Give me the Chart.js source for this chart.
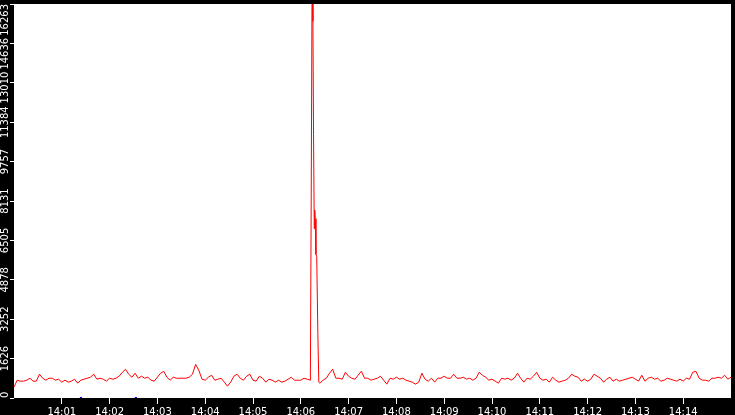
<!DOCTYPE html>
<html>
<head>
<meta charset="utf-8">
<script src="https://cdn.jsdelivr.net/npm/chart.js@4/dist/chart.umd.min.js"></script>
<style>
  html, body { margin: 0; padding: 0; background: #000; }
  #chart { display: block; }
</style>
</head>
<body>
<canvas id="chart" width="735" height="415"></canvas>
<script>
/***************************************
 * Data (seconds after 14:00:00, one sample every 4 s)
 ***************************************/
const sampleStep = 4;
const sampleValues = [
  449, 735, 695, 695, 735, 817, 695, 695, 981, 817,
  735, 817, 817, 735, 776, 654, 735, 654, 695, 776,
  613, 735, 776, 817, 858, 981, 776, 817, 776, 695,
  817, 776, 817, 899, 1062, 1185, 981, 858, 1021, 817,
  899, 817, 858, 735, 695, 858, 1021,
  1103, 858, 735, 858, 817, 817, 817, 817, 858, 981,
  1389, 1144, 776, 735, 858, 940, 735, 776, 817, 654,
  490, 654, 899, 981, 817, 735, 899, 981, 735, 695,
  899, 817, 654, 776, 735, 654, 735, 654, 695, 776,
  858, 735, 735, 735, 817, 776, 735,
  10870, 5850,
  613, 735, 817, 1021, 1185, 817, 817, 776, 1062, 899,
  817, 776, 940, 1103, 817, 817, 735, 776, 817, 899,
  735, 572, 817, 776, 858, 776, 817, 735, 695, 654,
  572, 654, 1021, 776, 695, 817, 654, 817, 817, 899,
  817, 817, 981, 817, 817,
  858, 776, 817, 735, 817, 1062, 940, 858, 735, 776,
  695, 613, 817, 776, 817, 735, 817, 1021, 817, 654,
  817, 776, 899, 1062, 817, 735, 776, 654, 858, 735,
  654, 695, 735, 817, 981, 899, 858, 695, 776, 695,
  776, 981, 899, 817, 654, 776, 858,
  695, 776, 695, 735, 776, 817, 858, 776, 695, 940,
  695, 817, 858, 776, 817, 695, 735, 817, 776, 735,
  695, 776, 695, 817, 776, 1062, 1103, 817, 735, 735,
  695, 817, 817, 858, 817, 940, 776, 858
];

// extra readings inside the burst around 14:06:13
const spikeSeconds = [373.1, 374.2, 375.2, 376.9, 377.5, 378.1, 379.0, 381.4, 382.6];
const spikeValues = [8500, 17800, 15550, 6990, 7760, 7400, 5925, 2656, 654];

// small blue markers on the time axis
const markerSeconds = [84, 153];

const yTickValues = [0, 1626, 3252, 4878, 6505, 8131, 9757, 11384, 13010, 14636, 16263];
const xTickSeconds = [60, 120, 180, 240, 300, 360, 420, 480, 540, 600, 660, 720, 780, 840];
const xTickLabels = ['14:01', '14:02', '14:03', '14:04', '14:05', '14:06', '14:07',
                     '14:08', '14:09', '14:10', '14:11', '14:12', '14:13', '14:14'];

/***************************************
 * Build point list
 ***************************************/
const linePoints = sampleValues
  .map((v, i) => ({ x: i * sampleStep, y: v }))
  .concat(spikeSeconds.map((s, i) => ({ x: s, y: spikeValues[i] })))
  .sort((a, b) => a.x - b.x);

const markerPoints = markerSeconds.map(s => ({ x: s, y: 0 }));

/***************************************
 * Plugins
 ***************************************/
// black canvas, white plot area
const backgroundPlugin = {
  id: 'bg',
  beforeDraw(chart) {
    const ctx = chart.ctx;
    const a = chart.chartArea;
    ctx.save();
    ctx.fillStyle = '#000';
    ctx.fillRect(0, 0, chart.width, chart.height);
    ctx.fillStyle = '#fff';
    ctx.fillRect(a.left, a.top, a.right - a.left, a.bottom - a.top);
    ctx.restore();
  }
};

// rotated y tick labels in the left strip, pushed apart when they touch
const yLabelPlugin = {
  id: 'ylabels',
  afterDraw(chart) {
    const ctx = chart.ctx;
    const scale = chart.scales.y;
    const a = chart.chartArea;
    ctx.save();
    ctx.font = '10px "DejaVu Sans"';
    ctx.fillStyle = '#fff';
    ctx.textAlign = 'center';
    ctx.textBaseline = 'middle';
    let prevBottom = -Infinity;
    yTickValues.slice().reverse().forEach(v => {
      const label = String(v);
      const w = ctx.measureText(label).width;
      let c = scale.getPixelForValue(v);
      c = Math.max(a.top + w / 2, Math.min(a.bottom - w / 2, c));
      if (c - w / 2 < prevBottom + 2) c = prevBottom + 2 + w / 2;
      prevBottom = c + w / 2;
      ctx.save();
      ctx.translate(5.5, c);
      ctx.rotate(-Math.PI / 2);
      ctx.fillText(label, 0, 0);
      ctx.restore();
    });
    ctx.restore();
  }
};

/***************************************
 * Chart
 ***************************************/
const chartCtx = document.getElementById('chart').getContext('2d');
const chart = new Chart(chartCtx, {
  type: 'line',
  data: {
    datasets: [{
      data: linePoints,
      borderColor: '#ff0000',
      borderWidth: 1,
      pointRadius: 0,
      tension: 0,
      fill: false
    }, {
      data: markerPoints,
      showLine: false,
      pointStyle: 'rect',
      pointRadius: 1.5,
      pointBorderWidth: 0,
      pointBackgroundColor: '#0000ff',
      borderColor: '#0000ff'
    }]
  },
  options: {
    responsive: false,
    animation: false,
    devicePixelRatio: 1,
    layout: { padding: 0 },
    plugins: {
      legend: { display: false },
      tooltip: { enabled: false }
    },
    scales: {
      x: {
        type: 'linear',
        min: 0,
        max: 900,
        afterBuildTicks: axis => { axis.ticks = xTickSeconds.map(v => ({ value: v })); },
        afterFit: axis => { axis.height = 17; },
        grid: {
          drawOnChartArea: false,
          drawTicks: true,
          tickLength: 6,
          color: '#fff'
        },
        border: { display: false },
        ticks: {
          color: '#fff',
          font: { family: 'DejaVu Sans', size: 10 },
          padding: 2,
          maxRotation: 0,
          autoSkip: false,
          callback: v => xTickLabels[xTickSeconds.indexOf(v)]
        }
      },
      y: {
        type: 'linear',
        min: 0,
        max: 16263,
        afterBuildTicks: axis => { axis.ticks = yTickValues.map(v => ({ value: v })); },
        afterFit: axis => { axis.width = 14; },
        grid: {
          drawOnChartArea: false,
          drawTicks: true,
          tickLength: 4,
          color: '#fff'
        },
        border: { display: false },
        ticks: { display: false }
      }
    }
  },
  plugins: [backgroundPlugin, yLabelPlugin]
});
</script>
</body>
</html>
